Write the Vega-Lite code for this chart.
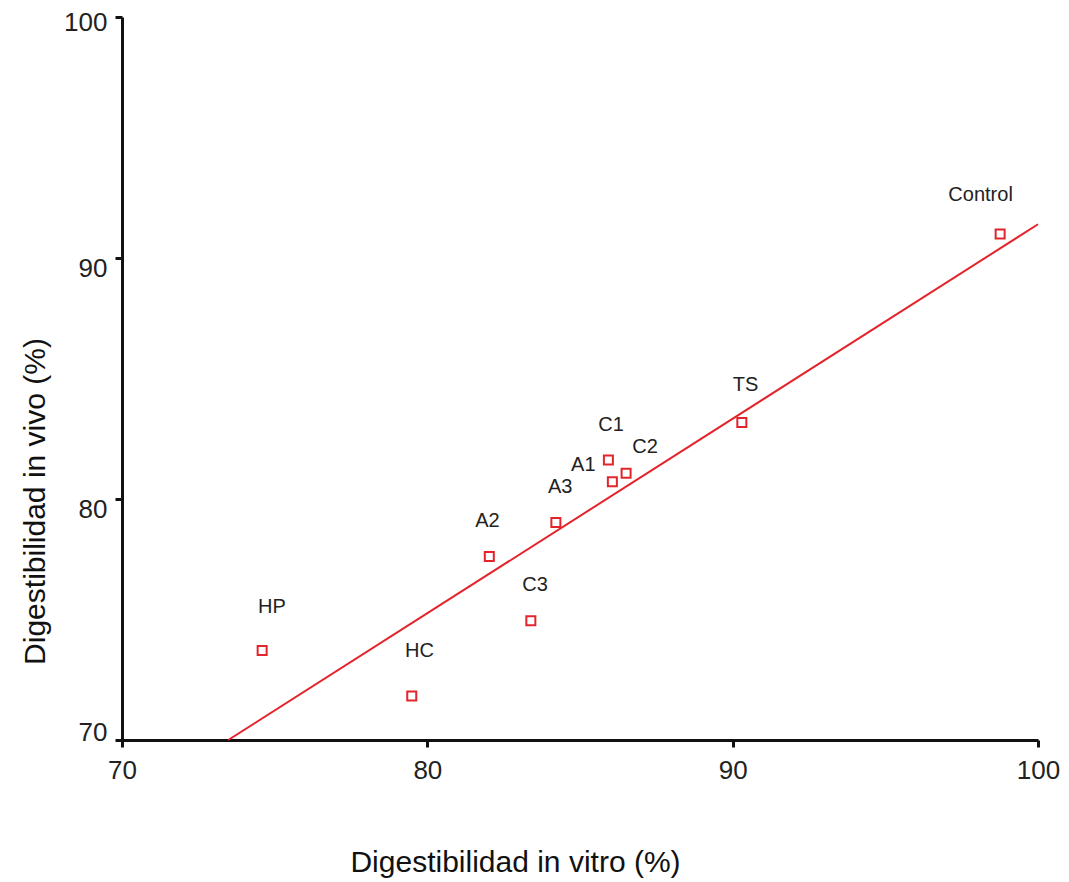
{
  "$schema": "https://vega.github.io/schema/vega-lite/v6.json",
  "width": 916,
  "height": 723,
  "autosize": {"type": "none"},
  "padding": {"left": 122, "top": 17, "right": 31, "bottom": 142},
  "background": "white",
  "config": {"view": {"stroke": null}, "font": "Liberation Sans"},
  "datasets": {
    "points": [
      {"sample": "Control", "vitro": 98.76, "vivo": 91.0, "labelVitro": 98.12, "labelVivo": 92.61},
      {"sample": "TS", "vitro": 90.3, "vivo": 83.17, "labelVitro": 90.42, "labelVivo": 84.73},
      {"sample": "C1", "vitro": 85.93, "vivo": 81.62, "labelVitro": 86.02, "labelVivo": 83.07},
      {"sample": "A1", "vitro": 86.06, "vivo": 80.72, "labelVitro": 85.11, "labelVivo": 81.43},
      {"sample": "C2", "vitro": 86.51, "vivo": 81.07, "labelVitro": 87.13, "labelVivo": 82.16},
      {"sample": "A3", "vitro": 84.21, "vivo": 79.02, "labelVitro": 84.35, "labelVivo": 80.48},
      {"sample": "A2", "vitro": 82.03, "vivo": 77.61, "labelVitro": 81.97, "labelVivo": 79.09},
      {"sample": "C3", "vitro": 83.39, "vivo": 74.95, "labelVitro": 83.53, "labelVivo": 76.45},
      {"sample": "HP", "vitro": 74.59, "vivo": 73.71, "labelVitro": 74.91, "labelVivo": 75.52},
      {"sample": "HC", "vitro": 79.49, "vivo": 71.83, "labelVitro": 79.74, "labelVivo": 73.71}
    ],
    "fit": [
      {"vitro": 73.48, "vivo": 70.0},
      {"vitro": 100.0, "vivo": 91.4}
    ]
  },
  "layer": [
    {
      "data": {"name": "fit"},
      "mark": {"type": "line", "color": "#e3242b", "strokeWidth": 2},
      "encoding": {
        "x": {"field": "vitro", "type": "quantitative", "scale": {"domain": [70, 100], "nice": false, "zero": false},
          "axis": {"title": "Digestibilidad in vitro (%)", "values": [70, 80, 90, 100], "grid": false, "domainColor": "#111", "domainWidth": 3, "tickColor": "#111", "tickWidth": 3, "tickSize": 7, "labelFontSize": 26, "labelColor": "#222", "labelPadding": 10, "labelFlush": false, "titleFontSize": 30, "titleFontWeight": "normal", "titleColor": "#111", "titleX": 393, "titleY": 122, "titleBaseline": "middle", "titleAlign": "center"}},
        "y": {"field": "vivo", "type": "quantitative", "scale": {"domain": [70, 100], "nice": false, "zero": false},
          "axis": {"title": "Digestibilidad in vivo (%)", "values": [70, 80, 90, 100], "grid": false, "domainColor": "#111", "domainWidth": 3, "tickColor": "#111", "tickWidth": 3, "tickSize": 7, "labelFontSize": 26, "labelColor": "#222", "labelPadding": 8, "labelFlush": false,
            "labelOffset": {"condition": [{"test": "datum.value == 70", "value": -8}, {"test": "datum.value == 100", "value": 5}], "value": 10},
            "titleFontSize": 30, "titleFontWeight": "normal", "titleColor": "#111", "titleX": -87, "titleY": 484, "titleBaseline": "middle", "titleAlign": "center"}}
      }
    },
    {
      "data": {"name": "points"},
      "mark": {"type": "point", "shape": "square", "filled": false, "size": 81, "strokeWidth": 2, "color": "#e3242b", "opacity": 1},
      "encoding": {
        "x": {"field": "vitro", "type": "quantitative"},
        "y": {"field": "vivo", "type": "quantitative"}
      }
    },
    {
      "data": {"name": "points"},
      "mark": {"type": "text", "fontSize": 20, "color": "#222", "baseline": "middle", "align": "center"},
      "encoding": {
        "x": {"field": "labelVitro", "type": "quantitative"},
        "y": {"field": "labelVivo", "type": "quantitative"},
        "text": {"field": "sample"}
      }
    }
  ]
}
